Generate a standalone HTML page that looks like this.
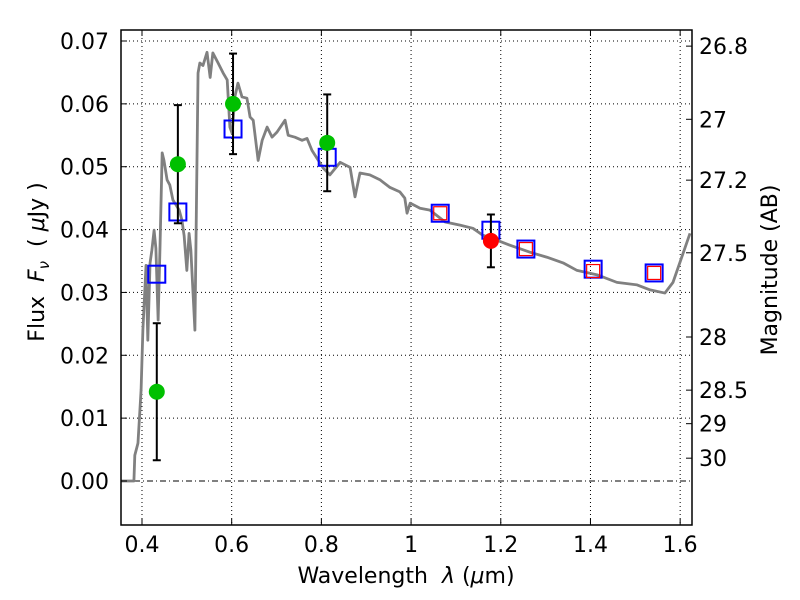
<!DOCTYPE html>
<html><head><meta charset="utf-8"><style>
body{margin:0;background:#fff}
svg{display:block;font-family:"DejaVu Sans","Liberation Sans",sans-serif}
text{white-space:pre}
</style></head><body>
<svg id="c" width="800" height="600"></svg>
<script>
const specWl=[0.353,0.382,0.384,0.391,0.398,0.402,0.409,0.413,0.418,0.422,0.427,0.431,0.436,0.440,0.445,0.449,0.456,0.462,0.469,0.476,0.483,0.489,0.494,0.500,0.505,0.509,0.518,0.525,0.529,0.536,0.545,0.552,0.558,0.569,0.581,0.590,0.596,0.601,0.607,0.614,0.623,0.634,0.641,0.648,0.659,0.668,0.679,0.690,0.701,0.719,0.726,0.741,0.757,0.768,0.779,0.804,0.819,0.842,0.864,0.875,0.886,0.908,0.931,0.953,0.975,0.986,0.991,0.998,1.020,1.042,1.076,1.109,1.138,1.160,1.192,1.221,1.265,1.303,1.339,1.370,1.415,1.459,1.504,1.533,1.566,1.584,1.622];
const specFlux=[0,0,0.0041,0.0060,0.0145,0.0240,0.0343,0.0224,0.0347,0.0367,0.0399,0.0370,0.0256,0.0367,0.0522,0.0510,0.0479,0.0471,0.0447,0.0439,0.0431,0.0415,0.0390,0.0335,0.0394,0.0367,0.0240,0.0649,0.0665,0.0661,0.0682,0.0642,0.0681,0.0666,0.0649,0.0638,0.0563,0.0553,0.0611,0.0633,0.0611,0.0609,0.0579,0.0574,0.0510,0.0542,0.0563,0.0547,0.0555,0.0574,0.0550,0.0547,0.0542,0.0545,0.0526,0.0498,0.0487,0.0507,0.0499,0.0452,0.0490,0.0487,0.0479,0.0467,0.0460,0.0450,0.0426,0.0442,0.0434,0.0431,0.0412,0.0407,0.0402,0.0391,0.0383,0.0375,0.0364,0.0356,0.0347,0.0335,0.0328,0.0316,0.0312,0.0304,0.0299,0.0316,0.0394];
const greenWl=[0.433,0.480,0.603,0.813];
const greenFlux=[0.0142,0.0504,0.0600,0.0538];
const greenErr=[0.0109,0.0094,0.0080,0.0077];
const redWl=[1.178];
const redFlux=[0.0382];
const redErr=[0.0042];
const blueWl=[0.433,0.480,0.603,0.813,1.065,1.178,1.256,1.406,1.542];
const blueFlux=[0.0329,0.0428,0.0560,0.0515,0.0426,0.0399,0.0369,0.0337,0.0331];
const rsqWl=[1.065,1.256,1.406,1.542];
const rsqFlux=[0.0426,0.0369,0.0334,0.0331];
const xTicks=[0.4,0.6,0.8,1.0,1.2,1.4,1.6];
const xTickLabels=["0.4","0.6","0.8","1","1.2","1.4","1.6"];
const yTicks=[0,0.01,0.02,0.03,0.04,0.05,0.06,0.07];
const yTickLabels=["0.00","0.01","0.02","0.03","0.04","0.05","0.06","0.07"];
const magTicks=[26.8,27,27.2,27.5,28,28.5,29,30];
const magLabels=["26.8","27","27.2","27.5","28","28.5","29","30"];

const L=121,R=692,T=30,B=525;
const xmin=0.3532,xmax=1.6264,ymin=-0.00700,ymax=0.07175;
const X=v=>L+(v-xmin)/(xmax-xmin)*(R-L);
const Y=v=>B-(v-ymin)/(ymax-ymin)*(B-T);
const magToFlux=m=>Math.pow(10,(23.9-m)/2.5);
const svg=document.getElementById('c');
const NS='http://www.w3.org/2000/svg';
function mk(tag,at,parent){const e=document.createElementNS(NS,tag);for(const k in at)e.setAttribute(k,at[k]);(parent||svg).appendChild(e);return e;}

const grid=mk('g',{});


xTicks.forEach(t=>{mk('line',{x1:X(t),x2:X(t),y1:T,y2:B,stroke:'#000','stroke-width':1,'stroke-dasharray':'1,3'},grid);});
yTicks.forEach(t=>{mk('line',{x1:L,x2:R,y1:Y(t),y2:Y(t),stroke:'#000','stroke-width':1,'stroke-dasharray':t===0?'6,3,1,3':'1,3'},grid);});

const spec=mk('polyline',{points:specWl.map((w,i)=>X(w)+','+Y(specFlux[i])).join(' '),fill:'none',stroke:'#808080','stroke-width':2.8,'stroke-linejoin':'round'});



blueWl.forEach((w,i)=>{const r=mk('rect',{x:X(w)-8.5,y:Y(blueFlux[i])-8.5,width:17,height:17,fill:'none',stroke:'#0000ff','stroke-width':2});

});
rsqWl.forEach((w,i)=>{const r=mk('rect',{x:X(w)-6.5,y:Y(rsqFlux[i])-6.5,width:13,height:13,fill:'none',stroke:'#ff0000','stroke-width':1.2});

});

function pts(wl,fl,er,col,name){wl.forEach((w,i)=>{const g=mk('g',{});


const x=X(w),y1=Y(fl[i]+er[i]),y2=Y(fl[i]-er[i]);
mk('line',{x1:x,x2:x,y1:y1,y2:y2,stroke:'#000','stroke-width':2},g);
mk('line',{x1:x-4,x2:x+4,y1:y1,y2:y1,stroke:'#000','stroke-width':2},g);
mk('line',{x1:x-4,x2:x+4,y1:y2,y2:y2,stroke:'#000','stroke-width':2},g);
mk('circle',{cx:x,cy:Y(fl[i]),r:8,fill:col},g);});}
pts(greenWl,greenFlux,greenErr,'#00c000','hst-photometry-point');
pts(redWl,redFlux,redErr,'#ff0000','ground-photometry-point');

const frame=mk('rect',{x:L,y:T,width:R-L,height:B-T,fill:'none',stroke:'#000','stroke-width':1.5});



xTicks.forEach((t,i)=>{const x=X(t);
mk('line',{x1:x,x2:x,y1:B,y2:B-6,stroke:'#000'});mk('line',{x1:x,x2:x,y1:T,y2:T+6,stroke:'#000'});
const tx=mk('text',{x:x,y:B+27,'font-size':22,'text-anchor':'middle'});tx.textContent=xTickLabels[i];

});
yTicks.forEach((t,i)=>{const y=Y(t);
mk('line',{x1:L,x2:L+6,y1:y,y2:y,stroke:'#000'});
const tx=mk('text',{x:L-12,y:y+8,'font-size':22,'text-anchor':'end'});tx.textContent=yTickLabels[i];

});
magTicks.forEach((m,i)=>{const y=Y(magToFlux(m));
mk('line',{x1:R,x2:R-6,y1:y,y2:y,stroke:'#000'});
const tx=mk('text',{x:R+7,y:y+8,'font-size':22});tx.textContent=magLabels[i];

});

const xl=mk('text',{x:406,y:583,'font-size':22,'text-anchor':'middle'});
xl.innerHTML='Wavelength  <tspan font-style="italic">λ</tspan> (<tspan font-style="italic">μ</tspan>m)';


const yl=mk('text',{x:0,y:0,'font-size':22,'text-anchor':'middle',transform:'translate(44,262) rotate(-90)'});
yl.innerHTML='Flux  <tspan font-style="italic">F</tspan><tspan font-style="italic" font-size="15" dy="5">ν</tspan><tspan dy="-5">  ( </tspan><tspan font-style="italic">μ</tspan>Jy )';


const rl=mk('text',{x:0,y:0,'font-size':22,'text-anchor':'middle',transform:'translate(777,270) rotate(-90)'});
rl.textContent='Magnitude (AB)';


</script>
</body></html>
